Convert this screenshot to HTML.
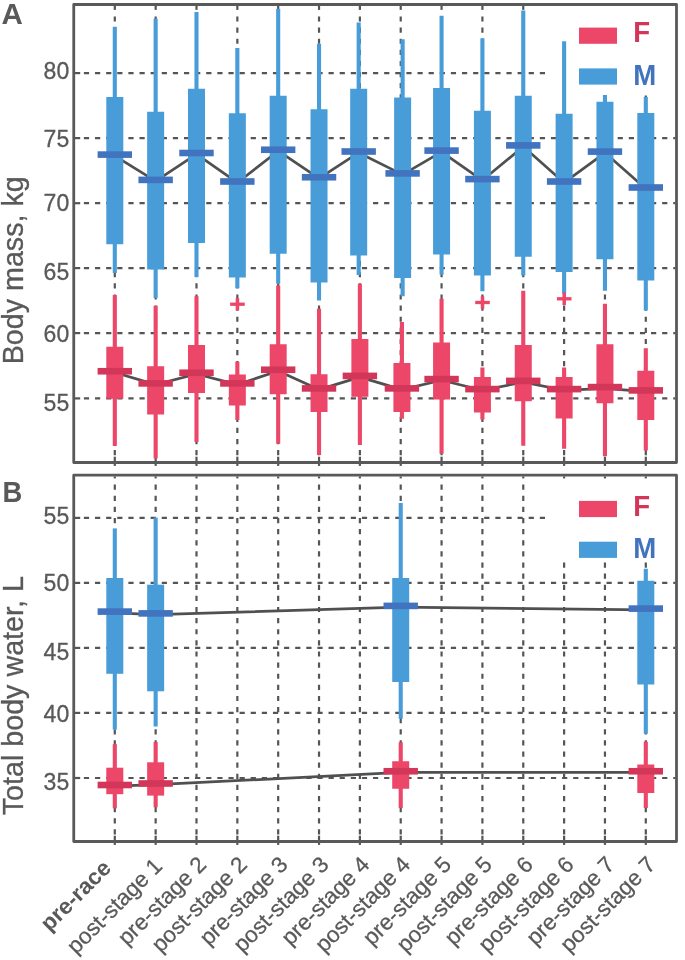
<!DOCTYPE html>
<html><head><meta charset="utf-8"><style>
html,body{margin:0;padding:0;background:#fff;}
body{width:685px;height:960px;overflow:hidden;}
svg{display:block;font-family:"Liberation Sans",sans-serif;will-change:transform;}
</style></head><body>
<svg width="685" height="960" viewBox="0 0 685 960">
<rect width="685" height="960" fill="#fff"/>
<line x1="75.00" y1="73.1" x2="80.2" y2="73.1" stroke="#555555" stroke-width="2.2"/>
<line x1="83.9" y1="73.1" x2="675.30" y2="73.1" stroke="#555555" stroke-width="2.2" stroke-dasharray="5.2 5.92"/>
<line x1="75.00" y1="138.1" x2="80.2" y2="138.1" stroke="#555555" stroke-width="2.2"/>
<line x1="83.9" y1="138.1" x2="675.30" y2="138.1" stroke="#555555" stroke-width="2.2" stroke-dasharray="5.2 5.92"/>
<line x1="75.00" y1="203.2" x2="80.2" y2="203.2" stroke="#555555" stroke-width="2.2"/>
<line x1="83.9" y1="203.2" x2="675.30" y2="203.2" stroke="#555555" stroke-width="2.2" stroke-dasharray="5.2 5.92"/>
<line x1="75.00" y1="268.1" x2="80.2" y2="268.1" stroke="#555555" stroke-width="2.2"/>
<line x1="83.9" y1="268.1" x2="675.30" y2="268.1" stroke="#555555" stroke-width="2.2" stroke-dasharray="5.2 5.92"/>
<line x1="75.00" y1="333.1" x2="80.2" y2="333.1" stroke="#555555" stroke-width="2.2"/>
<line x1="83.9" y1="333.1" x2="675.30" y2="333.1" stroke="#555555" stroke-width="2.2" stroke-dasharray="5.2 5.92"/>
<line x1="75.00" y1="398.4" x2="80.2" y2="398.4" stroke="#555555" stroke-width="2.2"/>
<line x1="83.9" y1="398.4" x2="675.30" y2="398.4" stroke="#555555" stroke-width="2.2" stroke-dasharray="5.2 5.92"/>
<line x1="114.80" y1="5.70" x2="114.80" y2="9.90" stroke="#555555" stroke-width="2.2"/>
<line x1="114.80" y1="16.40" x2="114.80" y2="456.30" stroke="#555555" stroke-width="2.2" stroke-dasharray="5.2 5.92"/>
<line x1="114.80" y1="456.70" x2="114.80" y2="465.90" stroke="#555555" stroke-width="2.2"/>
<line x1="155.65" y1="5.70" x2="155.65" y2="9.90" stroke="#555555" stroke-width="2.2"/>
<line x1="155.65" y1="16.40" x2="155.65" y2="456.30" stroke="#555555" stroke-width="2.2" stroke-dasharray="5.2 5.92"/>
<line x1="155.65" y1="456.70" x2="155.65" y2="465.90" stroke="#555555" stroke-width="2.2"/>
<line x1="196.49" y1="5.70" x2="196.49" y2="9.90" stroke="#555555" stroke-width="2.2"/>
<line x1="196.49" y1="16.40" x2="196.49" y2="456.30" stroke="#555555" stroke-width="2.2" stroke-dasharray="5.2 5.92"/>
<line x1="196.49" y1="456.70" x2="196.49" y2="465.90" stroke="#555555" stroke-width="2.2"/>
<line x1="237.34" y1="5.70" x2="237.34" y2="9.90" stroke="#555555" stroke-width="2.2"/>
<line x1="237.34" y1="16.40" x2="237.34" y2="456.30" stroke="#555555" stroke-width="2.2" stroke-dasharray="5.2 5.92"/>
<line x1="237.34" y1="456.70" x2="237.34" y2="465.90" stroke="#555555" stroke-width="2.2"/>
<line x1="278.18" y1="5.70" x2="278.18" y2="9.90" stroke="#555555" stroke-width="2.2"/>
<line x1="278.18" y1="16.40" x2="278.18" y2="456.30" stroke="#555555" stroke-width="2.2" stroke-dasharray="5.2 5.92"/>
<line x1="278.18" y1="456.70" x2="278.18" y2="465.90" stroke="#555555" stroke-width="2.2"/>
<line x1="319.03" y1="5.70" x2="319.03" y2="9.90" stroke="#555555" stroke-width="2.2"/>
<line x1="319.03" y1="16.40" x2="319.03" y2="456.30" stroke="#555555" stroke-width="2.2" stroke-dasharray="5.2 5.92"/>
<line x1="319.03" y1="456.70" x2="319.03" y2="465.90" stroke="#555555" stroke-width="2.2"/>
<line x1="359.88" y1="5.70" x2="359.88" y2="9.90" stroke="#555555" stroke-width="2.2"/>
<line x1="359.88" y1="16.40" x2="359.88" y2="456.30" stroke="#555555" stroke-width="2.2" stroke-dasharray="5.2 5.92"/>
<line x1="359.88" y1="456.70" x2="359.88" y2="465.90" stroke="#555555" stroke-width="2.2"/>
<line x1="400.72" y1="5.70" x2="400.72" y2="9.90" stroke="#555555" stroke-width="2.2"/>
<line x1="400.72" y1="16.40" x2="400.72" y2="456.30" stroke="#555555" stroke-width="2.2" stroke-dasharray="5.2 5.92"/>
<line x1="400.72" y1="456.70" x2="400.72" y2="465.90" stroke="#555555" stroke-width="2.2"/>
<line x1="441.57" y1="5.70" x2="441.57" y2="9.90" stroke="#555555" stroke-width="2.2"/>
<line x1="441.57" y1="16.40" x2="441.57" y2="456.30" stroke="#555555" stroke-width="2.2" stroke-dasharray="5.2 5.92"/>
<line x1="441.57" y1="456.70" x2="441.57" y2="465.90" stroke="#555555" stroke-width="2.2"/>
<line x1="482.41" y1="5.70" x2="482.41" y2="9.90" stroke="#555555" stroke-width="2.2"/>
<line x1="482.41" y1="16.40" x2="482.41" y2="456.30" stroke="#555555" stroke-width="2.2" stroke-dasharray="5.2 5.92"/>
<line x1="482.41" y1="456.70" x2="482.41" y2="465.90" stroke="#555555" stroke-width="2.2"/>
<line x1="523.26" y1="5.70" x2="523.26" y2="9.90" stroke="#555555" stroke-width="2.2"/>
<line x1="523.26" y1="16.40" x2="523.26" y2="456.30" stroke="#555555" stroke-width="2.2" stroke-dasharray="5.2 5.92"/>
<line x1="523.26" y1="456.70" x2="523.26" y2="465.90" stroke="#555555" stroke-width="2.2"/>
<line x1="564.11" y1="5.70" x2="564.11" y2="9.90" stroke="#555555" stroke-width="2.2"/>
<line x1="564.11" y1="16.40" x2="564.11" y2="456.30" stroke="#555555" stroke-width="2.2" stroke-dasharray="5.2 5.92"/>
<line x1="564.11" y1="456.70" x2="564.11" y2="465.90" stroke="#555555" stroke-width="2.2"/>
<line x1="604.95" y1="5.70" x2="604.95" y2="9.90" stroke="#555555" stroke-width="2.2"/>
<line x1="604.95" y1="16.40" x2="604.95" y2="456.30" stroke="#555555" stroke-width="2.2" stroke-dasharray="5.2 5.92"/>
<line x1="604.95" y1="456.70" x2="604.95" y2="465.90" stroke="#555555" stroke-width="2.2"/>
<line x1="645.80" y1="5.70" x2="645.80" y2="9.90" stroke="#555555" stroke-width="2.2"/>
<line x1="645.80" y1="16.40" x2="645.80" y2="456.30" stroke="#555555" stroke-width="2.2" stroke-dasharray="5.2 5.92"/>
<line x1="645.80" y1="456.70" x2="645.80" y2="465.90" stroke="#555555" stroke-width="2.2"/>
<rect x="545.00" y="5.80" width="130.30" height="89.70" fill="#ffffff"/>
<rect x="579.00" y="27.60" width="38.00" height="16.20" fill="#ec4669"/>
<rect x="579.00" y="68.40" width="38.00" height="16.20" fill="#489dd9"/>
<text x="0" y="0" font-size="29.7" font-weight="bold" fill="#d23659" transform="translate(633.2 42.20) scale(0.93 1)">F</text>
<text x="0" y="0" font-size="29.7" font-weight="bold" fill="#4173be" transform="translate(633.2 85.10) scale(0.93 1)">M</text>
<polyline points="114.80,155.80 155.65,181.10 196.49,154.20 237.34,182.70 278.18,150.95 319.03,178.45 358.68,152.70 402.62,174.60 441.57,151.80 482.41,180.30 523.26,146.60 564.11,182.70 604.95,152.80 645.80,188.70" fill="none" stroke="#505050" stroke-width="2.7" stroke-linejoin="round"/>
<polyline points="114.80,372.45 155.65,384.60 196.49,373.95 237.34,384.60 278.18,370.95 319.03,389.60 359.88,377.10 401.92,389.60 441.57,380.30 482.41,390.30 523.26,382.10 564.11,390.30 604.95,388.30 645.80,391.60" fill="none" stroke="#505050" stroke-width="2.7" stroke-linejoin="round"/>
<rect x="112.75" y="26.75" width="4.10" height="246.25" fill="#489dd9"/>
<rect x="106.30" y="97.00" width="17.00" height="147.25" fill="#489dd9"/>
<rect x="97.60" y="151.30" width="34.40" height="6.60" fill="#4173be"/>
<rect x="153.60" y="18.75" width="4.10" height="279.25" fill="#489dd9"/>
<rect x="147.15" y="111.75" width="17.00" height="157.75" fill="#489dd9"/>
<rect x="138.45" y="176.60" width="34.40" height="6.60" fill="#4173be"/>
<rect x="194.44" y="12.00" width="4.10" height="265.00" fill="#489dd9"/>
<rect x="187.99" y="88.75" width="17.00" height="154.25" fill="#489dd9"/>
<rect x="179.29" y="149.70" width="34.40" height="6.60" fill="#4173be"/>
<rect x="235.29" y="48.00" width="4.10" height="240.25" fill="#489dd9"/>
<rect x="228.84" y="113.25" width="17.00" height="164.25" fill="#489dd9"/>
<rect x="220.14" y="178.20" width="34.40" height="6.60" fill="#4173be"/>
<rect x="276.13" y="8.75" width="4.10" height="275.00" fill="#489dd9"/>
<rect x="269.68" y="95.75" width="17.00" height="158.00" fill="#489dd9"/>
<rect x="260.98" y="146.45" width="34.40" height="6.60" fill="#4173be"/>
<rect x="316.98" y="43.75" width="4.10" height="256.75" fill="#489dd9"/>
<rect x="310.53" y="109.25" width="17.00" height="173.25" fill="#489dd9"/>
<rect x="301.83" y="173.95" width="34.40" height="6.60" fill="#4173be"/>
<rect x="356.63" y="22.50" width="4.10" height="252.50" fill="#489dd9"/>
<rect x="350.18" y="88.75" width="17.00" height="166.75" fill="#489dd9"/>
<rect x="341.48" y="148.20" width="34.40" height="6.60" fill="#4173be"/>
<rect x="400.57" y="39.25" width="4.10" height="257.00" fill="#489dd9"/>
<rect x="394.12" y="97.50" width="17.00" height="180.50" fill="#489dd9"/>
<rect x="385.42" y="170.10" width="34.40" height="6.60" fill="#4173be"/>
<rect x="439.52" y="15.75" width="4.10" height="258.75" fill="#489dd9"/>
<rect x="433.07" y="88.00" width="17.00" height="166.50" fill="#489dd9"/>
<rect x="424.37" y="147.30" width="34.40" height="6.60" fill="#4173be"/>
<rect x="480.36" y="38.25" width="4.10" height="253.00" fill="#489dd9"/>
<rect x="473.91" y="110.75" width="17.00" height="164.75" fill="#489dd9"/>
<rect x="465.21" y="175.80" width="34.40" height="6.60" fill="#4173be"/>
<rect x="521.21" y="10.50" width="4.10" height="265.00" fill="#489dd9"/>
<rect x="514.76" y="95.75" width="17.00" height="161.00" fill="#489dd9"/>
<rect x="506.06" y="142.10" width="34.40" height="6.60" fill="#4173be"/>
<rect x="562.06" y="41.25" width="4.10" height="252.50" fill="#489dd9"/>
<rect x="555.61" y="113.75" width="17.00" height="158.25" fill="#489dd9"/>
<rect x="546.91" y="178.20" width="34.40" height="6.60" fill="#4173be"/>
<rect x="602.90" y="95.00" width="4.10" height="195.75" fill="#489dd9"/>
<rect x="596.45" y="101.75" width="17.00" height="157.50" fill="#489dd9"/>
<rect x="587.75" y="148.30" width="34.40" height="6.60" fill="#4173be"/>
<rect x="643.75" y="97.00" width="4.10" height="213.50" fill="#489dd9"/>
<rect x="637.30" y="113.00" width="17.00" height="167.50" fill="#489dd9"/>
<rect x="628.60" y="184.20" width="34.40" height="6.60" fill="#4173be"/>
<rect x="112.75" y="295.00" width="4.10" height="151.00" fill="#ec4669"/>
<rect x="106.30" y="346.75" width="17.00" height="52.00" fill="#ec4669"/>
<rect x="97.60" y="367.95" width="34.40" height="6.60" fill="#d23659"/>
<rect x="153.60" y="305.75" width="4.10" height="152.65" fill="#ec4669"/>
<rect x="147.15" y="366.25" width="17.00" height="48.25" fill="#ec4669"/>
<rect x="138.45" y="380.10" width="34.40" height="6.60" fill="#d23659"/>
<rect x="194.44" y="296.25" width="4.10" height="145.75" fill="#ec4669"/>
<rect x="187.99" y="345.00" width="17.00" height="48.00" fill="#ec4669"/>
<rect x="179.29" y="369.45" width="34.40" height="6.60" fill="#d23659"/>
<rect x="235.29" y="361.75" width="4.10" height="58.25" fill="#ec4669"/>
<rect x="228.84" y="374.50" width="17.00" height="31.00" fill="#ec4669"/>
<rect x="220.14" y="380.10" width="34.40" height="6.60" fill="#d23659"/>
<rect x="276.13" y="285.50" width="4.10" height="158.25" fill="#ec4669"/>
<rect x="269.68" y="344.25" width="17.00" height="50.00" fill="#ec4669"/>
<rect x="260.98" y="366.45" width="34.40" height="6.60" fill="#d23659"/>
<rect x="316.98" y="308.75" width="4.10" height="146.25" fill="#ec4669"/>
<rect x="310.53" y="374.25" width="17.00" height="37.75" fill="#ec4669"/>
<rect x="301.83" y="385.10" width="34.40" height="6.60" fill="#d23659"/>
<rect x="357.83" y="283.75" width="4.10" height="161.25" fill="#ec4669"/>
<rect x="351.38" y="339.00" width="17.00" height="57.75" fill="#ec4669"/>
<rect x="342.68" y="372.60" width="34.40" height="6.60" fill="#d23659"/>
<rect x="399.87" y="322.00" width="4.10" height="96.75" fill="#ec4669"/>
<rect x="393.42" y="363.00" width="17.00" height="49.00" fill="#ec4669"/>
<rect x="384.72" y="385.10" width="34.40" height="6.60" fill="#d23659"/>
<rect x="439.52" y="298.75" width="4.10" height="155.00" fill="#ec4669"/>
<rect x="433.07" y="342.50" width="17.00" height="57.00" fill="#ec4669"/>
<rect x="424.37" y="375.80" width="34.40" height="6.60" fill="#d23659"/>
<rect x="480.36" y="367.50" width="4.10" height="52.00" fill="#ec4669"/>
<rect x="473.91" y="377.00" width="17.00" height="35.50" fill="#ec4669"/>
<rect x="465.21" y="385.80" width="34.40" height="6.60" fill="#d23659"/>
<rect x="521.21" y="290.75" width="4.10" height="155.00" fill="#ec4669"/>
<rect x="514.76" y="345.00" width="17.00" height="56.25" fill="#ec4669"/>
<rect x="506.06" y="377.60" width="34.40" height="6.60" fill="#d23659"/>
<rect x="562.06" y="367.50" width="4.10" height="81.25" fill="#ec4669"/>
<rect x="555.61" y="377.00" width="17.00" height="41.50" fill="#ec4669"/>
<rect x="546.91" y="385.80" width="34.40" height="6.60" fill="#d23659"/>
<rect x="602.90" y="303.75" width="4.10" height="152.50" fill="#ec4669"/>
<rect x="596.45" y="344.25" width="17.00" height="59.00" fill="#ec4669"/>
<rect x="587.75" y="383.80" width="34.40" height="6.60" fill="#d23659"/>
<rect x="643.75" y="348.25" width="4.10" height="102.25" fill="#ec4669"/>
<rect x="637.30" y="370.75" width="17.00" height="49.25" fill="#ec4669"/>
<rect x="628.60" y="387.10" width="34.40" height="6.60" fill="#d23659"/>
<rect x="230.14" y="302.55" width="14.60" height="3.30" fill="#ec4669"/>
<rect x="235.69" y="297.90" width="3.50" height="12.60" fill="#ec4669"/>
<rect x="475.21" y="300.85" width="14.60" height="3.30" fill="#ec4669"/>
<rect x="480.76" y="296.20" width="3.50" height="12.60" fill="#ec4669"/>
<rect x="556.91" y="297.15" width="14.60" height="3.30" fill="#ec4669"/>
<rect x="562.46" y="292.50" width="3.50" height="12.60" fill="#ec4669"/>
<rect x="73.75" y="4.50" width="602.75" height="458.00" fill="none" stroke="#595959" stroke-width="2.8" stroke-linejoin="round"/>
<line x1="75.00" y1="517.9" x2="80.2" y2="517.9" stroke="#555555" stroke-width="2.2"/>
<line x1="83.9" y1="517.9" x2="675.30" y2="517.9" stroke="#555555" stroke-width="2.2" stroke-dasharray="5.2 5.92"/>
<line x1="75.00" y1="582.9" x2="80.2" y2="582.9" stroke="#555555" stroke-width="2.2"/>
<line x1="83.9" y1="582.9" x2="675.30" y2="582.9" stroke="#555555" stroke-width="2.2" stroke-dasharray="5.2 5.92"/>
<line x1="75.00" y1="647.9" x2="80.2" y2="647.9" stroke="#555555" stroke-width="2.2"/>
<line x1="83.9" y1="647.9" x2="675.30" y2="647.9" stroke="#555555" stroke-width="2.2" stroke-dasharray="5.2 5.92"/>
<line x1="75.00" y1="712.9" x2="80.2" y2="712.9" stroke="#555555" stroke-width="2.2"/>
<line x1="83.9" y1="712.9" x2="675.30" y2="712.9" stroke="#555555" stroke-width="2.2" stroke-dasharray="5.2 5.92"/>
<line x1="75.00" y1="778.0" x2="80.2" y2="778.0" stroke="#555555" stroke-width="2.2"/>
<line x1="83.9" y1="778.0" x2="675.30" y2="778.0" stroke="#555555" stroke-width="2.2" stroke-dasharray="5.2 5.92"/>
<line x1="114.80" y1="476.40" x2="114.80" y2="478.40" stroke="#555555" stroke-width="2.2"/>
<line x1="114.80" y1="484.60" x2="114.80" y2="835.30" stroke="#555555" stroke-width="2.2" stroke-dasharray="5.2 5.92"/>
<line x1="114.80" y1="835.70" x2="114.80" y2="844.90" stroke="#555555" stroke-width="2.2"/>
<line x1="155.65" y1="476.40" x2="155.65" y2="478.40" stroke="#555555" stroke-width="2.2"/>
<line x1="155.65" y1="484.60" x2="155.65" y2="835.30" stroke="#555555" stroke-width="2.2" stroke-dasharray="5.2 5.92"/>
<line x1="155.65" y1="835.70" x2="155.65" y2="844.90" stroke="#555555" stroke-width="2.2"/>
<line x1="196.49" y1="476.40" x2="196.49" y2="478.40" stroke="#555555" stroke-width="2.2"/>
<line x1="196.49" y1="484.60" x2="196.49" y2="835.30" stroke="#555555" stroke-width="2.2" stroke-dasharray="5.2 5.92"/>
<line x1="196.49" y1="835.70" x2="196.49" y2="844.90" stroke="#555555" stroke-width="2.2"/>
<line x1="237.34" y1="476.40" x2="237.34" y2="478.40" stroke="#555555" stroke-width="2.2"/>
<line x1="237.34" y1="484.60" x2="237.34" y2="835.30" stroke="#555555" stroke-width="2.2" stroke-dasharray="5.2 5.92"/>
<line x1="237.34" y1="835.70" x2="237.34" y2="844.90" stroke="#555555" stroke-width="2.2"/>
<line x1="278.18" y1="476.40" x2="278.18" y2="478.40" stroke="#555555" stroke-width="2.2"/>
<line x1="278.18" y1="484.60" x2="278.18" y2="835.30" stroke="#555555" stroke-width="2.2" stroke-dasharray="5.2 5.92"/>
<line x1="278.18" y1="835.70" x2="278.18" y2="844.90" stroke="#555555" stroke-width="2.2"/>
<line x1="319.03" y1="476.40" x2="319.03" y2="478.40" stroke="#555555" stroke-width="2.2"/>
<line x1="319.03" y1="484.60" x2="319.03" y2="835.30" stroke="#555555" stroke-width="2.2" stroke-dasharray="5.2 5.92"/>
<line x1="319.03" y1="835.70" x2="319.03" y2="844.90" stroke="#555555" stroke-width="2.2"/>
<line x1="359.88" y1="476.40" x2="359.88" y2="478.40" stroke="#555555" stroke-width="2.2"/>
<line x1="359.88" y1="484.60" x2="359.88" y2="835.30" stroke="#555555" stroke-width="2.2" stroke-dasharray="5.2 5.92"/>
<line x1="359.88" y1="835.70" x2="359.88" y2="844.90" stroke="#555555" stroke-width="2.2"/>
<line x1="400.72" y1="476.40" x2="400.72" y2="478.40" stroke="#555555" stroke-width="2.2"/>
<line x1="400.72" y1="484.60" x2="400.72" y2="835.30" stroke="#555555" stroke-width="2.2" stroke-dasharray="5.2 5.92"/>
<line x1="400.72" y1="835.70" x2="400.72" y2="844.90" stroke="#555555" stroke-width="2.2"/>
<line x1="441.57" y1="476.40" x2="441.57" y2="478.40" stroke="#555555" stroke-width="2.2"/>
<line x1="441.57" y1="484.60" x2="441.57" y2="835.30" stroke="#555555" stroke-width="2.2" stroke-dasharray="5.2 5.92"/>
<line x1="441.57" y1="835.70" x2="441.57" y2="844.90" stroke="#555555" stroke-width="2.2"/>
<line x1="482.41" y1="476.40" x2="482.41" y2="478.40" stroke="#555555" stroke-width="2.2"/>
<line x1="482.41" y1="484.60" x2="482.41" y2="835.30" stroke="#555555" stroke-width="2.2" stroke-dasharray="5.2 5.92"/>
<line x1="482.41" y1="835.70" x2="482.41" y2="844.90" stroke="#555555" stroke-width="2.2"/>
<line x1="523.26" y1="476.40" x2="523.26" y2="478.40" stroke="#555555" stroke-width="2.2"/>
<line x1="523.26" y1="484.60" x2="523.26" y2="835.30" stroke="#555555" stroke-width="2.2" stroke-dasharray="5.2 5.92"/>
<line x1="523.26" y1="835.70" x2="523.26" y2="844.90" stroke="#555555" stroke-width="2.2"/>
<line x1="564.11" y1="476.40" x2="564.11" y2="478.40" stroke="#555555" stroke-width="2.2"/>
<line x1="564.11" y1="484.60" x2="564.11" y2="835.30" stroke="#555555" stroke-width="2.2" stroke-dasharray="5.2 5.92"/>
<line x1="564.11" y1="835.70" x2="564.11" y2="844.90" stroke="#555555" stroke-width="2.2"/>
<line x1="604.95" y1="476.40" x2="604.95" y2="478.40" stroke="#555555" stroke-width="2.2"/>
<line x1="604.95" y1="484.60" x2="604.95" y2="835.30" stroke="#555555" stroke-width="2.2" stroke-dasharray="5.2 5.92"/>
<line x1="604.95" y1="835.70" x2="604.95" y2="844.90" stroke="#555555" stroke-width="2.2"/>
<line x1="645.80" y1="476.40" x2="645.80" y2="478.40" stroke="#555555" stroke-width="2.2"/>
<line x1="645.80" y1="484.60" x2="645.80" y2="835.30" stroke="#555555" stroke-width="2.2" stroke-dasharray="5.2 5.92"/>
<line x1="645.80" y1="835.70" x2="645.80" y2="844.90" stroke="#555555" stroke-width="2.2"/>
<rect x="545.00" y="479.10" width="130.30" height="82.40" fill="#ffffff"/>
<rect x="579.00" y="500.90" width="38.00" height="16.20" fill="#ec4669"/>
<rect x="579.00" y="541.70" width="38.00" height="16.20" fill="#489dd9"/>
<text x="0" y="0" font-size="29.7" font-weight="bold" fill="#d23659" transform="translate(633.2 515.50) scale(0.93 1)">F</text>
<text x="0" y="0" font-size="29.7" font-weight="bold" fill="#4173be" transform="translate(633.2 558.40) scale(0.93 1)">M</text>
<polyline points="114.80,612.80 155.65,614.60 400.72,607.10 645.80,609.80" fill="none" stroke="#505050" stroke-width="2.7" stroke-linejoin="round"/>
<polyline points="114.80,786.20 155.65,784.70 400.72,772.45 645.80,772.45" fill="none" stroke="#505050" stroke-width="2.7" stroke-linejoin="round"/>
<rect x="112.75" y="528.40" width="4.10" height="201.20" fill="#489dd9"/>
<rect x="106.30" y="578.00" width="17.00" height="95.80" fill="#489dd9"/>
<rect x="97.60" y="608.30" width="34.40" height="6.60" fill="#4173be"/>
<rect x="153.60" y="517.60" width="4.10" height="208.90" fill="#489dd9"/>
<rect x="147.15" y="584.70" width="17.00" height="106.60" fill="#489dd9"/>
<rect x="138.45" y="610.10" width="34.40" height="6.60" fill="#4173be"/>
<rect x="398.67" y="503.00" width="4.10" height="215.75" fill="#489dd9"/>
<rect x="392.22" y="578.00" width="17.00" height="104.00" fill="#489dd9"/>
<rect x="383.52" y="602.60" width="34.40" height="6.60" fill="#4173be"/>
<rect x="643.75" y="568.75" width="4.10" height="164.95" fill="#489dd9"/>
<rect x="637.30" y="580.75" width="17.00" height="103.75" fill="#489dd9"/>
<rect x="628.60" y="605.30" width="34.40" height="6.60" fill="#4173be"/>
<rect x="112.75" y="744.20" width="4.10" height="64.10" fill="#ec4669"/>
<rect x="106.30" y="767.70" width="17.00" height="26.50" fill="#ec4669"/>
<rect x="97.60" y="781.70" width="34.40" height="6.60" fill="#d23659"/>
<rect x="153.60" y="742.00" width="4.10" height="65.30" fill="#ec4669"/>
<rect x="147.15" y="762.30" width="17.00" height="33.30" fill="#ec4669"/>
<rect x="138.45" y="780.20" width="34.40" height="6.60" fill="#d23659"/>
<rect x="398.67" y="742.25" width="4.10" height="65.85" fill="#ec4669"/>
<rect x="392.22" y="761.25" width="17.00" height="27.50" fill="#ec4669"/>
<rect x="383.52" y="767.95" width="34.40" height="6.60" fill="#d23659"/>
<rect x="643.75" y="741.70" width="4.10" height="66.30" fill="#ec4669"/>
<rect x="637.30" y="764.50" width="17.00" height="28.50" fill="#ec4669"/>
<rect x="628.60" y="767.95" width="34.40" height="6.60" fill="#d23659"/>
<rect x="73.75" y="475.20" width="602.75" height="366.30" fill="none" stroke="#595959" stroke-width="2.8" stroke-linejoin="round"/>
<text x="69.2" y="78.55" font-size="23" text-anchor="end" fill="#595959" stroke="#595959" stroke-width="0.3">80</text>
<text x="69.2" y="147.25" font-size="23" text-anchor="end" fill="#595959" stroke="#595959" stroke-width="0.3">75</text>
<text x="69.2" y="211.35" font-size="23" text-anchor="end" fill="#595959" stroke="#595959" stroke-width="0.3">70</text>
<text x="69.2" y="280.05" font-size="23" text-anchor="end" fill="#595959" stroke="#595959" stroke-width="0.3">65</text>
<text x="69.2" y="341.65" font-size="23" text-anchor="end" fill="#595959" stroke="#595959" stroke-width="0.3">60</text>
<text x="69.2" y="410.75" font-size="23" text-anchor="end" fill="#595959" stroke="#595959" stroke-width="0.3">55</text>
<text x="69.2" y="524.35" font-size="23" text-anchor="end" fill="#595959" stroke="#595959" stroke-width="0.3">55</text>
<text x="69.2" y="591.05" font-size="23" text-anchor="end" fill="#595959" stroke="#595959" stroke-width="0.3">50</text>
<text x="69.2" y="659.55" font-size="23" text-anchor="end" fill="#595959" stroke="#595959" stroke-width="0.3">45</text>
<text x="69.2" y="721.55" font-size="23" text-anchor="end" fill="#595959" stroke="#595959" stroke-width="0.3">40</text>
<text x="69.2" y="790.35" font-size="23" text-anchor="end" fill="#595959" stroke="#595959" stroke-width="0.3">35</text>
<text x="1.6" y="24" font-size="29.5" font-weight="bold" fill="#595959">A</text>
<text x="0" y="0" font-size="30.4" font-weight="bold" fill="#595959" transform="translate(2.6 501.9) scale(0.9 1)">B</text>
<text x="0" y="0" font-size="28.7" fill="#595959" stroke="#595959" stroke-width="0.3" text-anchor="middle" transform="translate(22.6 270.3) rotate(-90)">Body mass, kg</text>
<text x="0" y="0" font-size="28.7" fill="#595959" stroke="#595959" stroke-width="0.3" text-anchor="middle" transform="translate(22.6 695.7) rotate(-90)">Total body water, L</text>
<text x="112.30" y="869.50" font-size="22.5" font-weight="bold" text-anchor="end" fill="#595959" transform="rotate(-45 112.30 869.50)">pre-race</text>
<text x="163.65" y="867.50" font-size="22.5" text-anchor="end" fill="#595959" stroke="#595959" stroke-width="0.25" transform="rotate(-45 163.65 867.50)">post-stage 1</text>
<text x="207.49" y="866.00" font-size="22.5" text-anchor="end" fill="#595959" stroke="#595959" stroke-width="0.25" transform="rotate(-45 207.49 866.00)">pre-stage 2</text>
<text x="248.34" y="866.00" font-size="22.5" text-anchor="end" fill="#595959" stroke="#595959" stroke-width="0.25" transform="rotate(-45 248.34 866.00)">post-stage 2</text>
<text x="289.18" y="866.00" font-size="22.5" text-anchor="end" fill="#595959" stroke="#595959" stroke-width="0.25" transform="rotate(-45 289.18 866.00)">pre-stage 3</text>
<text x="330.03" y="866.00" font-size="22.5" text-anchor="end" fill="#595959" stroke="#595959" stroke-width="0.25" transform="rotate(-45 330.03 866.00)">post-stage 3</text>
<text x="370.88" y="866.00" font-size="22.5" text-anchor="end" fill="#595959" stroke="#595959" stroke-width="0.25" transform="rotate(-45 370.88 866.00)">pre-stage 4</text>
<text x="411.72" y="866.00" font-size="22.5" text-anchor="end" fill="#595959" stroke="#595959" stroke-width="0.25" transform="rotate(-45 411.72 866.00)">post-stage 4</text>
<text x="452.57" y="866.00" font-size="22.5" text-anchor="end" fill="#595959" stroke="#595959" stroke-width="0.25" transform="rotate(-45 452.57 866.00)">pre-stage 5</text>
<text x="493.41" y="866.00" font-size="22.5" text-anchor="end" fill="#595959" stroke="#595959" stroke-width="0.25" transform="rotate(-45 493.41 866.00)">post-stage 5</text>
<text x="534.26" y="866.00" font-size="22.5" text-anchor="end" fill="#595959" stroke="#595959" stroke-width="0.25" transform="rotate(-45 534.26 866.00)">pre-stage 6</text>
<text x="575.11" y="866.00" font-size="22.5" text-anchor="end" fill="#595959" stroke="#595959" stroke-width="0.25" transform="rotate(-45 575.11 866.00)">post-stage 6</text>
<text x="615.95" y="866.00" font-size="22.5" text-anchor="end" fill="#595959" stroke="#595959" stroke-width="0.25" transform="rotate(-45 615.95 866.00)">pre-stage 7</text>
<text x="656.80" y="866.00" font-size="22.5" text-anchor="end" fill="#595959" stroke="#595959" stroke-width="0.25" transform="rotate(-45 656.80 866.00)">post-stage 7</text>
</svg>
</body></html>
